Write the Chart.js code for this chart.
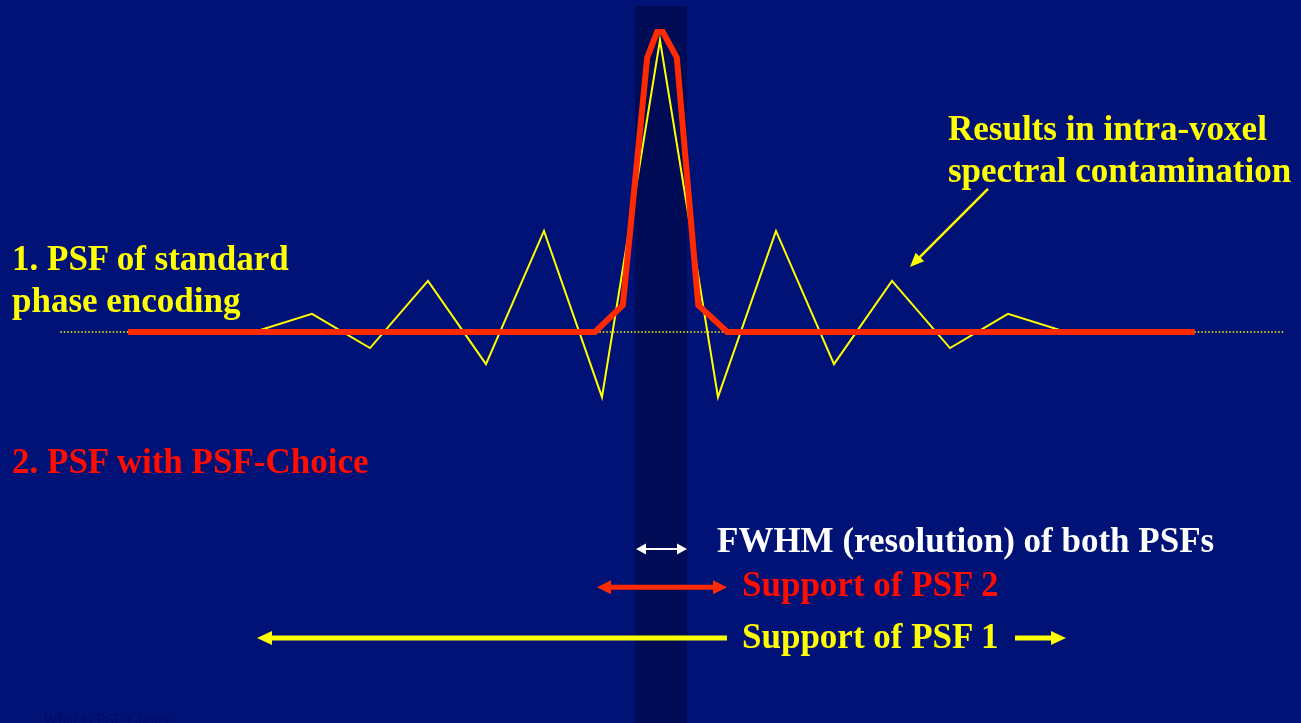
<!DOCTYPE html>
<html>
<head>
<meta charset="utf-8">
<title>PSF Choice</title>
<script src="https://cdn.jsdelivr.net/npm/chart.js@4.4.0/dist/chart.umd.min.js"></script>
<style>
  html, body { margin: 0; padding: 0; background: #001276; overflow: hidden; }
  #wrap { position: relative; width: 1301px; height: 723px; }
  #myChart { position: absolute; left: 0; top: 0; }
  .lbl {
    position: absolute;
    font-family: "Liberation Serif", "Times New Roman", serif;
    font-weight: bold;
    font-size: 35px;
    line-height: 35px;
    white-space: nowrap;
  }
  .yellow { color: #ffff00; }
  .red { color: #ff0d00; }
  .white { color: #ffffff; }
  #footer {
    position: absolute; left: 43px; top: 712px;
    font-family: "Liberation Serif", serif; font-size: 16px; line-height: 16px;
    color: #000a66; white-space: nowrap;
  }
</style>
</head>
<body>
<div id="wrap">
  <canvas id="myChart" width="1301" height="723"></canvas>
  <div class="lbl yellow" style="left:948px; top:111px;">Results in intra-voxel</div>
  <div class="lbl yellow" style="left:948px; top:153px;">spectral contamination</div>
  <div class="lbl yellow" style="left:12px; top:241px;">1. PSF of standard</div>
  <div class="lbl yellow" style="left:12px; top:283px;">phase encoding</div>
  <div class="lbl red" style="left:12px; top:444px;">2. PSF with PSF-Choice</div>
  <div class="lbl white" style="left:717px; top:523px;">FWHM (resolution) of both PSFs</div>
  <div class="lbl red" style="left:742px; top:567px;">Support of PSF 2</div>
  <div class="lbl yellow" style="left:742px; top:619px;">Support of PSF 1</div>
  <div id="footer">What is PSF Choice</div>
</div>
<script>
// x in voxel units (centre voxel at 0), y = normalised amplitude
let sincX = [-9.17, -7, -6, -5, -4, -3, -2, -1, 0, 1, 2, 3, 4, 5, 6, 7, 9.22];
let sincY = [0, 0, 0.062, -0.055, 0.175, -0.11, 0.346, -0.223, 1, -0.223, 0.346, -0.11, 0.175, -0.055, 0.062, 0, 0];

let choiceX = [-9.17, -1.12, -0.64, -0.22, -0.05, 0.05, 0.29, 0.66, 1.16, 9.22];
let choiceY = [0, 0, 0.092, 0.94, 1.027, 1.027, 0.94, 0.092, 0, 0];

let baseX = [-10.34, 10.78];
let baseY = [0, 0];

// centre voxel column
let bandX = [-0.43, 0.466];
let bandTop = 1.116;

// widths shown by the arrows underneath
let fwhmRange = [-0.414, 0.466];
let support2Range = [-1.086, 1.155];
let support1Range = [-6.948, 7.0];
let support1Gap = [1.155, 6.121];
let pointerFrom = [5.655, 0.49];
let pointerTo = [4.31, 0.223];

function toPoints(xs, ys) {
  return xs.map((x, i) => {
    return { x: x, y: ys[i] };
  });
}

function arrowHead(ctx, tipX, tipY, fromX, fromY, len, w, color) {
  let ang = Math.atan2(tipY - fromY, tipX - fromX);
  ctx.save();
  ctx.translate(tipX, tipY);
  ctx.rotate(ang);
  ctx.fillStyle = color;
  ctx.beginPath();
  ctx.moveTo(0, 0);
  ctx.lineTo(-len, -w / 2);
  ctx.lineTo(-len, w / 2);
  ctx.closePath();
  ctx.fill();
  ctx.restore();
}

function arrowLine(ctx, x1, y1, x2, y2, color, width) {
  ctx.save();
  ctx.strokeStyle = color;
  ctx.lineWidth = width;
  ctx.lineCap = "butt";
  ctx.beginPath();
  ctx.moveTo(x1, y1);
  ctx.lineTo(x2, y2);
  ctx.stroke();
  ctx.restore();
}

function shorten(x1, y1, x2, y2, d) {
  let len = Math.hypot(x2 - x1, y2 - y1);
  return [x2 - (x2 - x1) * d / len, y2 - (y2 - y1) * d / len];
}

let decor = {
  id: "decor",
  beforeDatasetsDraw(chart) {
    let ctx = chart.ctx;
    let xs = chart.scales.x;
    let ys = chart.scales.y;
    let l = xs.getPixelForValue(bandX[0]);
    let r = xs.getPixelForValue(bandX[1]);
    let t = ys.getPixelForValue(bandTop);
    ctx.save();
    ctx.fillStyle = "#000b55";
    ctx.fillRect(l, t, r - l, chart.height - t);
    ctx.restore();
  },
  afterDatasetsDraw(chart) {
    let ctx = chart.ctx;
    let xs = chart.scales.x;
    let ys = chart.scales.y;

    // FWHM double arrow (white)
    let yy = ys.getPixelForValue(-0.743);
    let a = xs.getPixelForValue(fwhmRange[0]);
    let b = xs.getPixelForValue(fwhmRange[1]);
    arrowLine(ctx, a + 8, yy, b - 8, yy, "#ffffff", 2);
    arrowHead(ctx, a, yy, b, yy, 10, 11, "#ffffff");
    arrowHead(ctx, b, yy, a, yy, 10, 11, "#ffffff");

    // support of PSF 2 (red)
    yy = ys.getPixelForValue(-0.874);
    a = xs.getPixelForValue(support2Range[0]);
    b = xs.getPixelForValue(support2Range[1]);
    arrowLine(ctx, a + 12, yy, b - 12, yy, "#ff2a00", 5);
    arrowHead(ctx, a, yy, b, yy, 14, 14, "#ff2a00");
    arrowHead(ctx, b, yy, a, yy, 14, 14, "#ff2a00");

    // support of PSF 1 (yellow, split by the label)
    yy = ys.getPixelForValue(-1.048);
    a = xs.getPixelForValue(support1Range[0]);
    b = xs.getPixelForValue(support1Gap[0]);
    arrowLine(ctx, a + 12, yy, b, yy, "#ffff00", 5);
    arrowHead(ctx, a, yy, b, yy, 15, 14, "#ffff00");
    a = xs.getPixelForValue(support1Gap[1]);
    b = xs.getPixelForValue(support1Range[1]);
    arrowLine(ctx, a, yy, b - 12, yy, "#ffff00", 5);
    arrowHead(ctx, b, yy, a, yy, 15, 14, "#ffff00");

    // pointer to the side lobes
    let px1 = xs.getPixelForValue(pointerFrom[0]);
    let py1 = ys.getPixelForValue(pointerFrom[1]);
    let px2 = xs.getPixelForValue(pointerTo[0]);
    let py2 = ys.getPixelForValue(pointerTo[1]);
    let e = shorten(px1, py1, px2, py2, 10);
    arrowLine(ctx, px1, py1, e[0], e[1], "#ffff00", 2.5);
    arrowHead(ctx, px2, py2, px1, py1, 14, 12, "#ffff00");
  }
};

let ctx = document.getElementById("myChart").getContext("2d");
let myChart = new Chart(ctx, {
  type: "scatter",
  data: {
    datasets: [
      {
        label: "PSF with PSF-Choice",
        data: toPoints(choiceX, choiceY),
        showLine: true,
        borderColor: "#ff2a00",
        borderWidth: 6,
        borderJoinStyle: "miter",
        pointRadius: 0,
        tension: 0,
        order: 1,
      },
      {
        label: "PSF of standard phase encoding",
        data: toPoints(sincX, sincY),
        showLine: true,
        borderColor: "#ffff00",
        borderWidth: 2,
        pointRadius: 0,
        tension: 0,
        order: 2,
      },
      {
        label: "baseline",
        data: toPoints(baseX, baseY),
        showLine: true,
        borderColor: "#ffff00",
        borderWidth: 1.5,
        borderDash: [1.5, 2],
        pointRadius: 0,
        order: 3,
      },
    ],
  },
  options: {
    responsive: false,
    animation: false,
    layout: { padding: 0 },
    plugins: {
      legend: { display: false },
      tooltip: { enabled: false },
    },
    scales: {
      x: { type: "linear", min: -11.379, max: 11.052, display: false },
      y: { type: "linear", min: -1.339, max: 1.137, display: false },
    },
  },
  plugins: [decor],
});
</script>
</body>
</html>
